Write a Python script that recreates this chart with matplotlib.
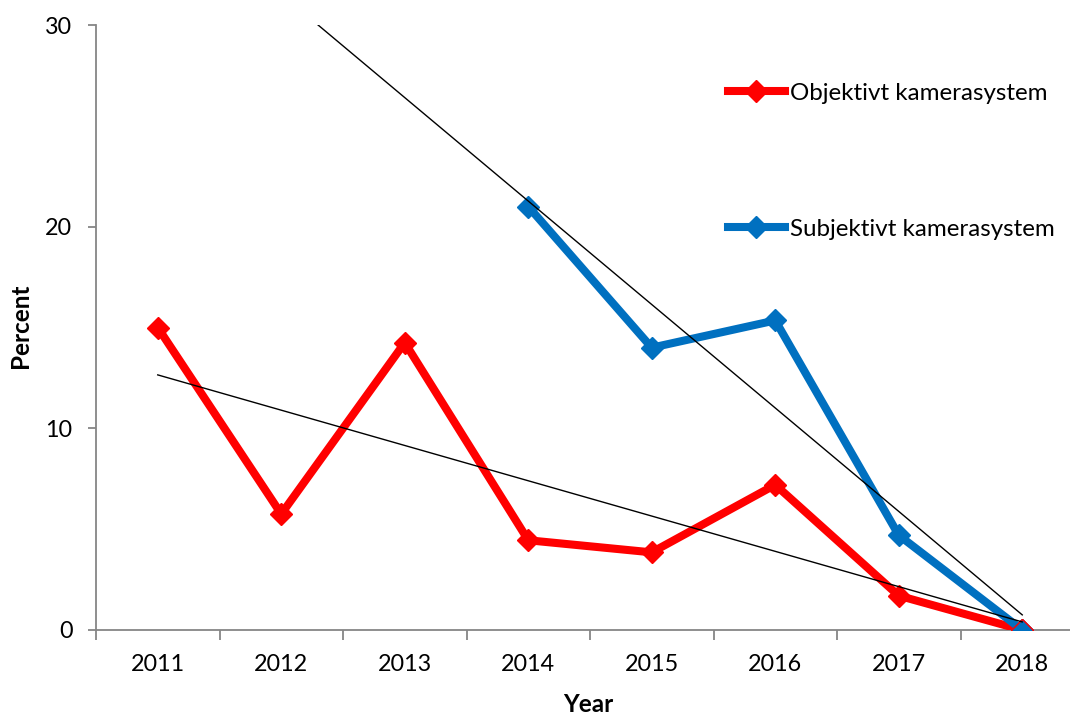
import numpy as np
import matplotlib
matplotlib.use("Agg")
import matplotlib.pyplot as plt
from matplotlib.lines import Line2D

years = ["2011", "2012", "2013", "2014", "2015", "2016", "2017", "2018"]
objektivt = [15.0, 5.75, 14.25, 4.45, 3.85, 7.2, 1.7, 0.0]
subjektivt_years = ["2014", "2015", "2016", "2017", "2018"]
subjektivt = [21.0, 14.0, 15.35, 4.7, 0.0]

FONT = ["Lato", "DejaVu Sans"]
plt.rcParams["font.family"] = FONT
FS = 16.8

W, H = 1070, 715
fig = plt.figure(figsize=(W / 100, H / 100), dpi=100)
ax = fig.add_axes([96 / W, (H - 630) / H, (1084 - 96) / W, (630 - 25) / H])

RED = "#FF0000"
BLUE = "#0070C0"
MS = 11.5

xr = np.arange(len(years))
xb = np.array([years.index(y) for y in subjektivt_years])

# trend lines (linear fits, as in the original)
cr = np.polyfit(xr, objektivt, 1)
tx_r = np.array([xr[0], xr[-1]])
ax.plot(tx_r, np.polyval(cr, tx_r), color="black", lw=1.0, zorder=4)
cb = np.polyfit(xb, subjektivt, 1)
tx_b = np.array([xb[0] - 2, xb[-1]])
ax.plot(tx_b, np.polyval(cb, tx_b), color="black", lw=1.0, zorder=4)

ax.plot(xr, objektivt, color=RED, lw=5.8, marker="D", ms=MS, mec=RED, mfc=RED,
        solid_joinstyle="miter", zorder=3)
ax.plot(xb, subjektivt, color=BLUE, lw=5.8, marker="D", ms=MS, mec=BLUE, mfc=BLUE,
        solid_joinstyle="miter", zorder=3)
# last point in original: blue diamond with red outline
ax.plot([xb[-1]], [subjektivt[-1]], ls="none", marker="D", ms=MS, mfc=BLUE, mec=RED,
        mew=1.0, zorder=3.5)

ax.set_xlim(-0.5, len(years) - 0.5)
ax.set_ylim(0, 30)

ax.set_xticks(xr)
ax.set_xticklabels(years, fontsize=FS)
ax.set_xticks(np.arange(-0.5, len(years) + 0.5, 1), minor=True)
ax.tick_params(axis="x", which="major", length=0, pad=17)
ax.tick_params(axis="x", which="minor", length=7, width=1.3, color="#868686", direction="out")
ax.set_yticks([0, 10, 20, 30])
ax.set_yticklabels(["0", "10", "20", "30"], fontsize=FS)
ax.tick_params(axis="y", length=6, width=1.3, color="#868686", direction="out", pad=11)

for s in ["top", "right"]:
    ax.spines[s].set_visible(False)
for s in ["left", "bottom"]:
    ax.spines[s].set_color("#868686")
    ax.spines[s].set_linewidth(1.3)

fig.text(20 / W, 1 - 326 / H, "Percent", rotation=90, ha="center", va="center",
         fontsize=17.5, fontweight="bold")
fig.text(588 / W, 1 - 705 / H, "Year", ha="center", va="center",
         fontsize=17.5, fontweight="bold")

def add_leg(color, label, ypix):
    h = Line2D([], [], color=color, lw=5.8, marker="D", ms=MS, mfc=color, mec=color)
    leg = fig.legend([h], [label], loc="center left",
                     bbox_to_anchor=(728 / W, 1 - ypix / H), bbox_transform=fig.transFigure,
                     frameon=False, borderpad=0, borderaxespad=0, handlelength=2.35,
                     handletextpad=0.2, fontsize=17.4)
    return leg

add_leg(RED, "Objektivt kamerasystem", 93)
add_leg(BLUE, "Subjektivt kamerasystem", 229)

fig.savefig("out.png", dpi=100)
